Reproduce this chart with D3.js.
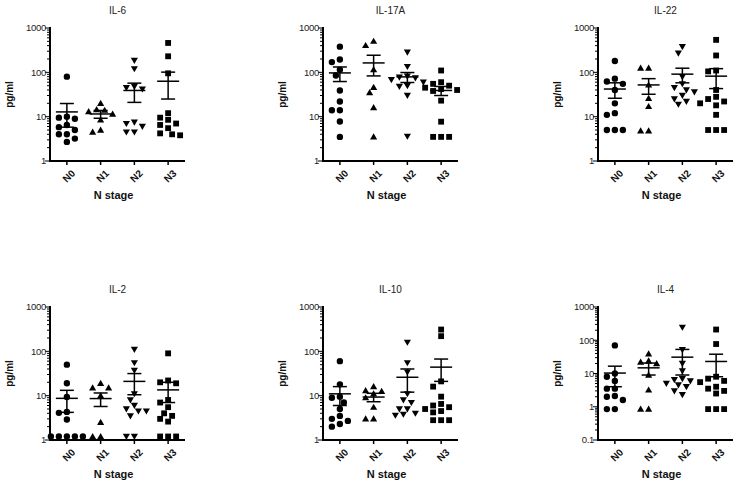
<!DOCTYPE html>
<html><head><meta charset="utf-8">
<script src="https://cdn.jsdelivr.net/npm/d3@7"></script>
<style>
body{margin:0;background:#fff}
svg{display:block}
text{font-family:"Liberation Sans",Arial,sans-serif}
</style>
</head><body>
<svg id="c" width="740" height="481"></svg>
<script>
// ---------- DATA ----------
const groups = ["N0", "N1", "N2", "N3"];
const panelTitles = ["IL-6", "IL-17A", "IL-22", "IL-2", "IL-10", "IL-4"];
const yTicks3 = [1, 10, 100, 1000];
const yTicks4 = [0.1, 1, 10, 100, 1000];
const yTickLabels3 = ["1", "10", "100", "1000"];
const yTickLabels4 = ["0.1", "1", "10", "100", "1000"];
const yLabel = "pg/ml";
const xLabel = "N stage";

const il6 = [
  [80, 10, 9.5, 9, 6.5, 5.8, 5, 4, 4, 3.2, 2.7],
  [20, 14.5, 14, 13, 11.5, 8.5, 5, 4.5],
  [185, 120, 48, 45, 42, 7.5, 7, 6, 4.5, 4.5],
  [460, 230, 95, 12, 9.5, 8.5, 7, 6.5, 5.5, 4.2, 4, 3.8]
];
const il6Mean = [12.8, 11.5, 39, 63];
const il6Sem = [7, 2.3, 18, 38];

const il17a = [
  [380, 195, 170, 115, 85, 39, 22, 14, 14, 7.8, 3.5],
  [505, 405, 116, 46, 35, 16, 3.5],
  [285, 135, 82, 78, 75, 68, 60, 50, 48, 30, 3.6],
  [110, 60, 55, 50, 45, 42, 40, 38, 23, 7.7, 3.5, 3.5, 3.5]
];
const il17aMean = [97, 163, 79, 39];
const il17aSem = [35, 80, 20, 9];

const il22 = [
  [180, 72, 62, 55, 40, 20, 12, 11, 5, 5, 5],
  [125, 125, 52, 26, 17, 4.8, 4.8],
  [380, 270, 80, 55, 45, 40, 36, 30, 25, 22, 19],
  [540, 240, 110, 105, 40, 28, 25, 22, 20, 18, 11, 5, 5, 5]
];
const il22Mean = [42, 52, 91, 82];
const il22Sem = [16, 20, 33, 39];

const il2 = [
  [50, 19, 9.3, 4.3, 4.1, 2.9, 1.2, 1.2, 1.2, 1.2, 1.2],
  [19, 15, 15, 10, 2.5, 1.2, 1.2],
  [110, 55, 37, 11, 8, 6, 5, 4.5, 4.5, 3.5, 1.2, 1.2],
  [90, 22, 20, 19, 8, 7, 5.5, 4, 3.5, 3, 2.6, 1.2, 1.2, 1.2]
];
const il2Mean = [8.7, 8.6, 21, 13.5];
const il2Sem = [4.5, 2.9, 10.5, 6.5];

const il10 = [
  [60, 18, 9.5, 9, 7, 5, 3.5, 3, 2.7, 2.3, 2.0],
  [16, 13, 12.5, 11, 9, 5.5, 3, 3],
  [160, 55, 34, 11, 8, 7, 5, 5, 4, 3.8, 3.6],
  [310, 220, 21, 16, 9.5, 6.5, 6, 5.5, 5, 4.5, 4.2, 2.8, 2.8, 2.8]
];
const il10Mean = [11, 9.3, 26, 44];
const il10Sem = [5, 2, 14, 23];

const il4 = [
  [70, 10, 8, 6, 3.5, 3.5, 2.1, 2, 1.6, 0.85, 0.85],
  [39, 24, 22, 20, 9, 3.2, 0.85, 0.85],
  [245, 52, 20, 12, 7, 6.5, 6, 5, 4.5, 4, 3, 2.3],
  [210, 77, 8, 7, 6, 5.5, 4, 3.5, 3, 2.5, 0.85, 0.85, 0.85]
];
const il4Mean = [10.3, 14.8, 31, 23];
const il4Sem = [6.3, 5.8, 22, 15];

// ---------- BUILD ----------
const panels = [
  {title: panelTitles[0], data: il6, mean: il6Mean, sem: il6Sem, ticks: yTicks3, labels: yTickLabels3},
  {title: panelTitles[1], data: il17a, mean: il17aMean, sem: il17aSem, ticks: yTicks3, labels: yTickLabels3},
  {title: panelTitles[2], data: il22, mean: il22Mean, sem: il22Sem, ticks: yTicks3, labels: yTickLabels3},
  {title: panelTitles[3], data: il2, mean: il2Mean, sem: il2Sem, ticks: yTicks3, labels: yTickLabels3},
  {title: panelTitles[4], data: il10, mean: il10Mean, sem: il10Sem, ticks: yTicks3, labels: yTickLabels3},
  {title: panelTitles[5], data: il4, mean: il4Mean, sem: il4Sem, ticks: yTicks4, labels: yTickLabels4}
];

const colX = [50, 323, 598];
const rowY = [28, 307];
const W = 135, H = 133;
const symbols = [d3.symbolCircle, d3.symbolTriangle, d3.symbolTriangle, d3.symbolSquare];
const symSize = [32, 22, 22, 34];
const symRot = [0, 0, 180, 0];

const svg = d3.select("#c");

function swarm(vals, y, step, minDist) {
  const order = vals.map((v, i) => i).sort((a, b) => vals[b] - vals[a]);
  const placed = [];
  const off = new Array(vals.length);
  const cands = [0];
  for (let k = 1; k <= 12; k++) { cands.push(-k * step / 2, k * step / 2); }
  order.forEach(i => {
    const py = y(vals[i]);
    for (const c of cands) {
      if (placed.every(p => Math.hypot(p.x - c, p.y - py) >= minDist)) {
        off[i] = c; placed.push({x: c, y: py}); break;
      }
    }
  });
  return off;
}

panels.forEach((p, pi) => {
  const ox = colX[pi % 3], oy = rowY[Math.floor(pi / 3)];
  const g = svg.append("g").attr("transform", `translate(${ox},${oy})`);
  const y = d3.scaleLog().domain([p.ticks[0], p.ticks[p.ticks.length - 1]]).range([H, 0]);
  const x = d3.scalePoint().domain(groups).range([0, W]).padding(0.5);

  // title
  g.append("text").attr("x", W / 2).attr("y", -14).attr("text-anchor", "middle")
    .attr("font-size", 10).attr("fill", "#222").text(p.title);

  // y axis with minor ticks
  const allTicks = [];
  for (let d = 0; d < p.ticks.length - 1; d++) {
    for (let m = 1; m <= 9; m++) allTicks.push(p.ticks[d] * m);
  }
  allTicks.push(p.ticks[p.ticks.length - 1]);
  const yAxis = g.append("g");
  allTicks.forEach(t => {
    const major = p.ticks.some(v => Math.abs(v - t) < 1e-9);
    yAxis.append("line").attr("x1", major ? -5 : -3).attr("x2", 0)
      .attr("y1", y(t)).attr("y2", y(t)).attr("stroke", "#000").attr("stroke-width", 1);
  });
  p.ticks.forEach((t, i) => {
    yAxis.append("text").attr("x", -4).attr("y", y(t)).attr("dy", "0.35em")
      .attr("text-anchor", "end").attr("font-size", 9.5).attr("fill", "#222")
      .attr("letter-spacing", "-0.3").text(p.labels[i]);
  });
  yAxis.append("line").attr("x1", 0).attr("x2", 0).attr("y1", -1).attr("y2", H + 1)
    .attr("stroke", "#000").attr("stroke-width", 2);

  // x axis
  const xAxis = g.append("g").attr("transform", `translate(0,${H})`);
  xAxis.append("line").attr("x1", -1).attr("x2", W).attr("y1", 0).attr("y2", 0)
    .attr("stroke", "#000").attr("stroke-width", 2);
  groups.forEach(gr => {
    xAxis.append("line").attr("x1", x(gr)).attr("x2", x(gr)).attr("y1", 0).attr("y2", 4)
      .attr("stroke", "#000").attr("stroke-width", 1.5);
    xAxis.append("text").attr("transform", `translate(${x(gr) + 4},${8}) rotate(-45)`)
      .attr("text-anchor", "end").attr("dy", "0.7em").attr("font-size", 10)
      .attr("font-weight", "bold").attr("fill", "#111").text(gr);
  });

  // axis labels
  g.append("text").attr("transform", `translate(${-37},${H / 2}) rotate(-90)`)
    .attr("text-anchor", "middle").attr("font-size", 10).attr("font-weight", "bold")
    .attr("fill", "#111").text(yLabel);
  g.append("text").attr("x", W / 2 - 4).attr("y", H + 38).attr("text-anchor", "middle")
    .attr("font-size", 11).attr("font-weight", "bold").attr("fill", "#111").text(xLabel);

  // points
  p.data.forEach((vals, gi) => {
    const off = swarm(vals, y, 8, 6.6);
    const sym = d3.symbol().type(symbols[gi]).size(symSize[gi]);
    g.append("g").selectAll("path").data(vals).join("path")
      .attr("d", sym)
      .attr("transform", (v, i) => `translate(${x(groups[gi]) + off[i]},${y(v) + (gi === 1 ? 0.6 : gi === 2 ? -0.6 : 0)}) rotate(${symRot[gi]})`)
      .attr("fill", "#000");

    // mean +/- SEM
    const cx = x(groups[gi]);
    const m = p.mean[gi], s = p.sem[gi];
    const eg = g.append("g").attr("stroke", "#000").attr("stroke-width", 1.5).attr("fill", "none");
    eg.append("line").attr("x1", cx - 11).attr("x2", cx + 11).attr("y1", y(m)).attr("y2", y(m));
    eg.append("line").attr("x1", cx).attr("x2", cx).attr("y1", y(m - s)).attr("y2", y(m + s));
    eg.append("line").attr("x1", cx - 7).attr("x2", cx + 7).attr("y1", y(m + s)).attr("y2", y(m + s));
    eg.append("line").attr("x1", cx - 7).attr("x2", cx + 7).attr("y1", y(m - s)).attr("y2", y(m - s));
  });
});
</script>
</body></html>
